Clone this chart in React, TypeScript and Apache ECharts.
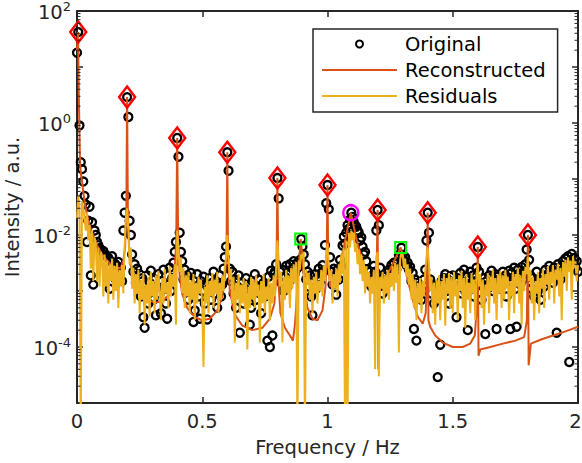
import React, { useEffect, useRef } from "react";
import * as echarts from "echarts";

// ---------- DATA ----------
const FREQ_STEP = 0.005; // Hz, spectral sampling of the measured spectrum

// Original spectrum, 0 .. 2 Hz (step 0.005)
const originalA = [
  18, 42, 0.9, 0.2, 0.15, 0.09, 0.05, 0.035, 0.0075, 0.018, 0.032, 0.0019, 0.017, 0.0013, 0.012, 0.01, 0.0075, 0.0066, 0.0058, 0.0052,
  4.6e-3, 5.2e-3, 3.5e-3, 4.4e-3, 2.6e-3, 3.9e-3, 1.1e-3, 3.4e-3, 4.2e-3, 2.2e-3, 3.1e-3, 1.6e-3, 2.8e-3, 3.3e-3, 2.0e-3, 2.6e-3, 1.5e-3, 0.012, 0.025, 0.05,
  2.9, 1.28, 0.018, 0.01, 4.5e-3, 2.2e-3, 3.0e-3, 1.4e-3, 2.5e-3, 1.2e-3, 2.0e-3, 8e-4, 1.7e-3, 3.4e-4, 2.2e-4, 1.0e-3, 1.9e-3, 6e-4, 1.4e-3, 2.3e-3,
  1.1e-3, 7e-4, 1.6e-3, 3.7e-4, 1.2e-3, 2.0e-3, 9e-4, 4.0e-4, 1.5e-3, 2.4e-3, 1.1e-3, 6e-4, 3.2e-4, 1.3e-3, 2.6e-3, 1.0e-3, 1.7e-3, 3.2e-3, 5e-3, 7.5e-3,
  0.54, 0.25, 0.011, 5e-3, 3.4e-3, 1.6e-3, 2.4e-3, 1.0e-3, 1.9e-3, 7e-4, 1.4e-3, 2.1e-3, 9e-4, 2.8e-4, 4.5e-4, 1.2e-3, 2.0e-3, 8e-4, 3.2e-4, 1.5e-3,
];
const originalB = [
  1.0e-3, 1.8e-3, 6e-4, 1.3e-3, 3.1e-4, 1.1e-3, 1.7e-3, 7e-4, 1.4e-3, 2.2e-3, 9e-4, 1.5e-3, 5e-4, 1.2e-3, 1.9e-3, 8e-4, 1.3e-3, 2.5e-3, 4e-3, 6.2e-3,
  0.3, 0.14, 2.5e-3, 1.5e-3, 2.2e-3, 9e-4, 1.6e-3, 5e-4, 1.2e-3, 1.9e-3, 1.8e-4, 1.0e-3, 1.4e-3, 6e-4, 1.1e-3, 1.7e-3, 8e-4, 1.3e-3, 2.5e-4, 5e-4,
  1.5e-3, 1.0e-3, 2.0e-3, 7e-4, 1.2e-3, 1.6e-3, 9e-4, 4e-4, 1.3e-3, 1.4e-3, 8e-4, 1.1e-3, 1.3e-4, 1.8e-3, 1.0e-4, 2.3e-3, 1.6e-4, 2.0e-3, 2.2e-3, 3e-3,
  0.104, 0.045, 2.2e-3, 1.4e-3, 2.4e-3, 1.0e-3, 1.8e-3, 2.8e-3, 1.2e-3, 2.0e-3, 3.0e-3, 1.6e-3, 2.5e-3, 3.4e-3, 2.1e-3, 2.4e-3, 3.2e-3, 2.7e-3, 3.6e-3, 8.5e-3,
  6.2e-3, 4.5e-3, 3.0e-3, 1.6e-3, 2.2e-3, 1.2e-3, 1.9e-3, 8e-4, 3.7e-4, 1.4e-3, 2.0e-3, 1.1e-3, 1.7e-3, 2.5e-3, 1.5e-3, 2.1e-3, 2.9e-3, 2.3e-3, 6.6e-3, 0.037,
];
const originalC = [
  0.078, 0.029, 4.0e-3, 2.2e-3, 1.3e-3, 2.5e-3, 1.8e-3, 8.6e-4, 2.4e-3, 1.6e-3, 3.6e-3, 2.8e-3, 6.5e-3, 9.3e-3, 7e-3, 0.011, 0.015, 0.013, 0.019, 0.025,
  0.021, 0.017, 0.015, 0.014, 0.012, 0.011, 8e-3, 9e-3, 6.2e-3, 4.5e-3, 5.0e-3, 3.4e-3, 2.4e-3, 1.6e-3, 2.2e-3, 1.2e-3, 1.9e-3, 2.8e-3, 2.2e-3, 0.012,
  0.028, 0.015, 2.6e-3, 1.5e-3, 9e-4, 1.8e-3, 1.2e-3, 2.1e-3, 1.4e-3, 2.4e-3, 1.8e-3, 2.9e-3, 2.2e-3, 3.2e-3, 2.6e-3, 2.4e-3, 3.2e-3, 4.4e-3, 4.0e-3, 5.9e-3,
  4.4e-3, 3.6e-3, 4.0e-3, 2.9e-3, 3.2e-3, 2.4e-3, 2.7e-3, 1.5e-3, 2.1e-3, 2.1e-4, 1.6e-3, 1.3e-4, 1.4e-3, 8e-4, 1.2e-3, 7e-4, 1.0e-3, 1.6e-3, 2.4e-3, 8e-3,
  0.025, 0.011, 1.6e-3, 9e-4, 1.3e-3, 6e-4, 1.1e-3, 7e-4, 2.9e-5, 1.2e-3, 1.1e-4, 1.5e-3, 9e-4, 1.7e-3, 2.0e-3, 1.0e-3, 1.6e-3, 6e-4, 1.8e-3, 1.3e-3,
];
const originalD = [
  1.9e-3, 1.1e-3, 1.5e-3, 3.4e-4, 1.7e-3, 1.2e-3, 2.1e-3, 9e-4, 1.4e-3, 2.4e-3, 1.0e-3, 1.8e-3, 2.0e-4, 1.6e-3, 2.2e-3, 1.3e-3, 1.9e-3, 8e-4, 1.5e-3, 2.6e-3,
  6.1e-3, 2.2e-3, 1.4e-3, 7e-4, 1.2e-3, 1.7e-3, 1.7e-4, 1.5e-3, 1.1e-3, 1.9e-3, 1.3e-3, 2.3e-3, 1.0e-3, 1.6e-3, 2.0e-3, 2.1e-4, 1.8e-3, 1.4e-3, 1.1e-3, 1.7e-3,
  2.2e-3, 1.4e-3, 1.9e-3, 8e-4, 1.5e-3, 2.3e-3, 2.1e-4, 2.1e-3, 1.7e-3, 2.6e-3, 1.1e-3, 2.3e-4, 2.4e-3, 2.0e-3, 1.3e-3, 2.7e-3, 1.6e-3, 2.2e-3, 3.0e-3, 5.5e-3,
  0.01, 3.6e-3, 1.9e-3, 1.1e-3, 1.7e-3, 8e-4, 1.4e-3, 2.2e-3, 1.0e-3, 1.6e-3, 7e-4, 1.3e-3, 1.9e-3, 1.2e-3, 2.4e-3, 1.5e-3, 2.0e-3, 2.8e-3, 1.7e-3, 2.3e-3,
  1.4e-3, 2.6e-3, 2.0e-3, 1.8e-4, 3.0e-3, 2.2e-3, 1.6e-3, 2.8e-3, 3.4e-3, 2.5e-3, 3.8e-3, 2.9e-3, 4.2e-3, 5.4e-5, 3.5e-3, 4.6e-3, 3.2e-3, 3.9e-3, 2.6e-3, 3.4e-3,
  2.2e-3,
];

// Residuals, same frequency grid
const residualA = [
  0.02, 0.05, 0.03, 3e-6, 0.04, 0.03, 0.02, 0.012, 0.025, 0.008, 0.015, 2.5e-3, 0.012, 1.5e-3, 9e-3, 7e-3, 1.5e-3, 6e-3, 1.2e-3, 5e-3,
  4e-3, 8e-4, 4.5e-3, 1.2e-3, 3.5e-3, 6e-4, 3e-3, 1.5e-3, 3.8e-3, 7e-4, 2.8e-3, 1.0e-3, 3.2e-3, 5e-4, 2.4e-3, 1.2e-3, 2.9e-3, 9e-4, 6e-3, 0.02,
  0.03, 0.012, 3e-3, 6e-3, 1.1e-3, 2.6e-3, 6e-4, 2.0e-3, 9e-4, 2.4e-3, 4e-4, 1.6e-3, 7e-4, 2.1e-3, 2.5e-4, 1.3e-3, 6e-4, 1.8e-3, 3.5e-4, 2.2e-3,
  8e-4, 1.5e-3, 4e-4, 1.9e-3, 7e-4, 2.3e-3, 1.0e-3, 3e-4, 1.7e-3, 6e-4, 2.5e-3, 9e-4, 1.4e-3, 5e-4, 2.8e-3, 8e-4, 2.0e-3, 1.2e-3, 3e-3, 2.5e-4,
  0.012, 6e-3, 2.2e-3, 4e-3, 9e-4, 2.6e-3, 5e-4, 1.9e-3, 8e-4, 2.2e-3, 4e-4, 1.5e-3, 7e-4, 2.0e-3, 3e-4, 1.4e-3, 6e-4, 1.8e-3, 9e-4, 1.6e-3,
];
const residualB = [
  5e-4, 4.4e-5, 1.2e-3, 6e-4, 1.9e-3, 4e-4, 1.5e-3, 8e-4, 2.1e-3, 5e-4, 1.6e-3, 9e-4, 2.2e-3, 4e-4, 1.4e-3, 7e-4, 1.9e-3, 1.0e-3, 2.6e-3, 4e-3,
  0.01, 4e-3, 1.6e-3, 2.5e-3, 6e-4, 1.8e-3, 1.2e-4, 1.4e-3, 7e-4, 2.0e-3, 4e-4, 1.3e-3, 6e-4, 1.7e-3, 5e-4, 1.5e-3, 9e-5, 1.2e-3, 5e-4, 1.8e-3,
  7e-4, 1.6e-3, 5e-4, 1.9e-3, 8e-4, 1.3e-3, 1.2e-4, 1.5e-3, 6e-4, 2.0e-3, 4e-4, 1.2e-3, 7e-4, 1.7e-3, 3e-4, 1.4e-3, 6e-4, 1.9e-3, 8e-4, 2.5e-3,
  8e-3, 3e-3, 1.2e-3, 2.2e-3, 1.2e-4, 1.8e-3, 7e-4, 2.4e-3, 9e-4, 1.9e-3, 5e-4, 2.6e-3, 1.1e-3, 3.0e-3, 1.4e-3, 3.3e-3, 3e-6, 3.5e-3, 2.4e-3, 4.5e-3,
  3.8e-3, 5e-3, 3e-6, 2.4e-3, 1.3e-3, 2.1e-3, 7e-4, 1.6e-3, 4e-4, 1.8e-3, 9e-4, 2.2e-3, 6e-4, 1.5e-3, 1.0e-3, 2.4e-3, 8e-4, 2.8e-3, 1.5e-3, 5e-3,
];
const residualC = [
  7e-3, 2.5e-3, 1.5e-3, 2.4e-3, 6e-4, 2.0e-3, 1.1e-3, 2.5e-3, 8e-4, 3.0e-3, 1.4e-3, 4.5e-3, 2.0e-3, 6e-3, 3e-6, 8e-3, 3e-6, 0.011, 6e-3, 0.012,
  8e-3, 0.011, 5e-3, 7e-3, 3e-3, 5.5e-3, 2e-3, 4.5e-3, 1.5e-3, 3.5e-3, 9e-4, 2.8e-3, 1.2e-3, 2.2e-3, 6e-4, 1.8e-3, 9e-4, 2.4e-3, 4e-5, 4e-3,
  5e-3, 3e-5, 1.8e-3, 1.1e-3, 2.2e-3, 6e-4, 1.9e-3, 9e-4, 2.4e-3, 7e-4, 2.1e-3, 1.2e-3, 2.8e-3, 1.0e-3, 3.2e-3, 1.4e-3, 3.0e-3, 8e-5, 3.6e-3, 5e-3,
  4.4e-3, 2.6e-3, 3.8e-3, 1.8e-3, 3.0e-3, 1.3e-3, 2.5e-3, 7e-4, 2.0e-3, 5e-4, 1.6e-3, 3e-4, 1.4e-3, 6e-4, 1.7e-3, 4e-4, 1.5e-3, 8e-4, 2.2e-3, 4e-3,
  6e-3, 3e-3, 1.0e-3, 1.8e-3, 4e-4, 1.4e-3, 2.5e-4, 1.6e-3, 6e-4, 1.9e-3, 3e-4, 1.5e-3, 7e-4, 2.0e-3, 2.4e-4, 1.7e-3, 9e-4, 2.1e-3, 5e-4, 1.8e-3,
];
const residualD = [
  4e-4, 2.2e-3, 8e-4, 1.6e-3, 3e-4, 1.9e-3, 1.0e-3, 2.3e-3, 5e-4, 1.7e-3, 2.2e-4, 2.0e-3, 7e-4, 1.4e-3, 4e-4, 2.1e-3, 9e-4, 1.6e-3, 3e-4, 2.0e-3,
  3e-3, 1.2e-3, 2.0e-3, 5e-4, 1.6e-3, 2.5e-4, 1.3e-3, 8e-4, 2.1e-3, 4e-4, 1.8e-3, 1.0e-3, 2.4e-3, 6e-4, 1.7e-3, 3e-4, 2.0e-3, 9e-4, 2.3e-3, 5e-4,
  1.9e-3, 7e-4, 2.4e-3, 1.1e-3, 1.8e-3, 3e-4, 1.5e-3, 8e-4, 2.2e-3, 4e-4, 2.0e-3, 1.2e-3, 2.6e-3, 6e-4, 1.9e-3, 2.5e-4, 2.3e-3, 1.0e-3, 2.7e-3, 2.0e-3,
  4e-3, 1.5e-3, 2.4e-3, 6e-4, 1.8e-3, 3e-4, 1.5e-3, 9e-4, 2.2e-3, 4e-4, 1.7e-3, 1.1e-3, 2.5e-3, 5e-4, 2.0e-3, 1.3e-3, 2.8e-3, 7e-4, 2.2e-3, 1.4e-3,
  2.9e-3, 6e-4, 2.4e-3, 1.6e-3, 3.1e-3, 8e-4, 2.6e-3, 3e-4, 3.3e-3, 1.8e-3, 3.6e-3, 1.0e-3, 4.0e-3, 2.2e-3, 3.5e-3, 7e-4, 4.2e-3, 2.6e-3, 3.4e-3, 1.5e-3,
  2.9e-3,
];

// Reconstructed model curve (frequency / value pairs)
const reconFreq = [
  0, 0.004, 0.008, 0.012, 0.016, 0.02, 0.03, 0.04, 0.05, 0.06, 0.08, 0.1, 0.12, 0.14, 0.16, 0.175, 0.185, 0.192, 0.197, 0.2,
  0.203, 0.208, 0.215, 0.23, 0.25, 0.28, 0.31, 0.34, 0.365, 0.38, 0.39, 0.396, 0.4, 0.404, 0.41, 0.42, 0.44, 0.47, 0.5, 0.53,
  0.56, 0.58, 0.592, 0.597, 0.6, 0.603, 0.61, 0.63, 0.66, 0.7, 0.74, 0.77, 0.788, 0.796, 0.8, 0.804, 0.812, 0.83, 0.85, 0.862,
  0.87, 0.88, 0.887, 0.893, 0.9, 0.908, 0.92, 0.94, 0.96, 0.98, 0.992, 0.997, 1.0, 1.003, 1.01, 1.03, 1.05, 1.065, 1.08, 1.093,
  1.105, 1.12, 1.14, 1.16, 1.18, 1.192, 1.197, 1.2, 1.203, 1.208, 1.22, 1.24, 1.26, 1.28, 1.292, 1.305, 1.32, 1.34, 1.36, 1.38,
  1.392, 1.397, 1.4, 1.403, 1.41, 1.43, 1.46, 1.5, 1.54, 1.57, 1.588, 1.596, 1.6, 1.603, 1.61, 1.65, 1.7, 1.75, 1.785, 1.796,
  1.8, 1.803, 1.812, 1.85, 1.9, 1.95, 2.0,
];
const reconVal = [
  20, 42, 2, 0.2, 0.12, 0.09, 0.04, 0.022, 0.015, 0.011, 6.5e-3, 4.5e-3, 3.5e-3, 2.8e-3, 2.5e-3, 2.6e-3, 3.5e-3, 6e-3, 0.03, 2.9,
  0.03, 6e-3, 3e-3, 1.6e-3, 1.0e-3, 7e-4, 6.2e-4, 6.5e-4, 8.5e-4, 1.3e-3, 2.5e-3, 7e-3, 0.54, 6e-3, 1.8e-3, 9e-4, 5e-4, 3.4e-4, 3.0e-4, 3.2e-4,
  4.5e-4, 8e-4, 2e-3, 6e-3, 0.3, 4e-3, 1.0e-3, 3.8e-4, 2.4e-4, 2.0e-4, 2.2e-4, 3.2e-4, 6e-4, 2e-3, 0.104, 1.5e-3, 4e-4, 2.2e-4, 1.6e-4, 1.3e-4,
  2.5e-4, 1.2e-3, 3.5e-3, 8.5e-3, 4e-3, 1.2e-3, 5e-4, 3.2e-4, 3.0e-4, 4.5e-4, 1.2e-3, 5e-3, 0.078, 3e-3, 1.2e-3, 1.4e-3, 3e-3, 6e-3, 0.013, 0.025,
  0.014, 7e-3, 3.5e-3, 1.8e-3, 1.2e-3, 1.5e-3, 4e-3, 0.028, 4e-5, 1.2e-3, 1.4e-3, 2.0e-3, 3.0e-3, 4.6e-3, 6e-3, 3.6e-3, 1.6e-3, 7e-4, 3.5e-4, 2.6e-4,
  4e-4, 1.5e-3, 0.025, 3e-4, 2.3e-4, 1.6e-4, 1.2e-4, 1.0e-4, 1.0e-4, 1.15e-4, 1.6e-4, 5e-4, 6.1e-3, 7e-5, 9e-5, 1.0e-4, 1.15e-4, 1.3e-4, 1.5e-4, 3e-4,
  0.01, 4.7e-5, 1.15e-4, 1.35e-4, 1.6e-4, 1.9e-4, 2.3e-4,
];

// Detected components
const peakFreq = [0.005, 0.2, 0.4, 0.6, 0.8, 1.0, 1.2, 1.4, 1.6, 1.8];
const peakVal = [42, 2.9, 0.54, 0.3, 0.104, 0.078, 0.028, 0.025, 0.0061, 0.01];
const broadFreq = [0.893, 1.292];
const broadVal = [0.0085, 0.006];
const selectedFreq = [1.093];
const selectedVal = [0.025];

// Axis ticks
const xTickInterval = 0.5;
const minorMultipliers = [2, 3, 4, 5, 6, 7, 8, 9];
const minorDecades = [1e-5, 1e-4, 1e-3, 1e-2, 1e-1, 1, 10];

// ---------- CHART ----------
const FONT = "DejaVu Sans";
const AXIS = "#262626";
const ORANGE = "#D95319";
const YELLOW = "#EDB120";

export default function App() {
  const ref = useRef<HTMLDivElement>(null);

  useEffect(() => {
    if (!ref.current) return;
    const chart = echarts.init(ref.current, undefined, { renderer: "svg" });

    const originalValues = [...originalA, ...originalB, ...originalC, ...originalD];
    const residualValues = [...residualA, ...residualB, ...residualC, ...residualD];
    const freqOf = (i: number) => +(i * FREQ_STEP).toFixed(3);
    const originalData = originalValues.map((v, i) => [freqOf(i), v]);
    const residualData = residualValues.map((v, i) => [freqOf(i), v]);
    const reconData = reconFreq.map((f, i) => [f, reconVal[i]]);
    const minorTicks = minorDecades.flatMap((d) => minorMultipliers.map((m) => [0, m * d]));

    const lineIcon = "path://M0,0H75V2H0Z";

    const option: any = {
      animation: false,
      backgroundColor: "#ffffff",
      grid: { left: 77, top: 11, width: 501, height: 392, containLabel: false, outerBoundsMode: "none" },
      legend: {
        orient: "vertical",
        left: 313,
        top: 29,
        itemWidth: 75,
        itemHeight: 7,
        itemGap: 6,
        padding: [5, 12, 6, 9],
        borderColor: AXIS,
        borderWidth: 1.5,
        borderRadius: 0,
        backgroundColor: "#ffffff",
        symbolKeepAspect: true,
        textStyle: { fontSize: 19.5, fontFamily: FONT, color: "#000", padding: [0, 0, 0, 3] },
        data: [
          { name: "Original", icon: "circle", itemStyle: { color: "rgba(0,0,0,0)", borderColor: "#000", borderWidth: 2, opacity: 1 } },
          { name: "Reconstructed", icon: lineIcon, itemStyle: { color: ORANGE, borderWidth: 0, opacity: 1 } },
          { name: "Residuals", icon: lineIcon, itemStyle: { color: YELLOW, borderWidth: 0, opacity: 1 } },
        ],
      },
      xAxis: [
        {
          type: "value",
          min: 0,
          max: 2,
          interval: xTickInterval,
          position: "bottom",
          axisLine: { show: true, onZero: false, lineStyle: { color: AXIS, width: 2 } },
          axisTick: { show: true, inside: true, length: 6, lineStyle: { color: AXIS, width: 1.5 } },
          axisLabel: {
            show: true,
            color: AXIS,
            fontSize: 19.5,
            fontFamily: FONT,
            margin: 8,
            formatter: (v: number) => (v === 2 ? "{r|2}" : String(v)),
            rich: { r: { fontSize: 19.5, fontFamily: FONT, color: AXIS, padding: [0, 5, 0, 0] } },
          },
          splitLine: { show: false },
          name: "Frequency / Hz",
          nameLocation: "middle",
          nameGap: 34,
          nameTextStyle: { color: AXIS, fontSize: 19.5, fontFamily: FONT },
        },
        {
          type: "value",
          min: 0,
          max: 2,
          interval: xTickInterval,
          position: "top",
          axisLine: { show: true, onZero: false, lineStyle: { color: AXIS, width: 2 } },
          axisTick: { show: true, inside: true, length: 6, lineStyle: { color: AXIS, width: 1.5 } },
          axisLabel: { show: false },
          splitLine: { show: false },
        },
      ],
      yAxis: [
        {
          type: "log",
          logBase: 10,
          min: 1e-5,
          max: 100,
          splitNumber: 7,
          position: "left",
          axisLine: { show: true, onZero: false, lineStyle: { color: AXIS, width: 2 } },
          axisTick: { show: true, inside: true, length: 6, lineStyle: { color: AXIS, width: 1.5 } },
          splitLine: { show: false },
          axisLabel: {
            show: true,
            margin: 6,
            formatter: (v: number) => {
              const e = Math.round(Math.log10(v));
              if (e % 2 !== 0) return "";
              return `{b|10}{s|${e}}`;
            },
            rich: {
              b: { fontSize: 19.5, fontFamily: FONT, color: AXIS, lineHeight: 23, verticalAlign: "bottom" },
              s: { fontSize: 13, fontFamily: FONT, color: AXIS, lineHeight: 13, verticalAlign: "top" },
            },
          },
          name: "Intensity / a.u.",
          nameLocation: "middle",
          nameGap: 52,
          nameTextStyle: { color: AXIS, fontSize: 19.5, fontFamily: FONT },
        },
        {
          type: "log",
          logBase: 10,
          min: 1e-5,
          max: 100,
          splitNumber: 7,
          position: "right",
          axisLine: { show: true, onZero: false, lineStyle: { color: AXIS, width: 2 } },
          axisTick: { show: true, inside: true, length: 6, lineStyle: { color: AXIS, width: 1.5 } },
          splitLine: { show: false },
          axisLabel: { show: false },
        },
      ],
      series: [
        {
          name: "Original",
          type: "scatter",
          data: originalData,
          symbol: "circle",
          symbolSize: 8,
          itemStyle: { color: "rgba(0,0,0,0)", borderColor: "#000", borderWidth: 2.3, opacity: 1 },
          z: 2,
          silent: true,
        },
        {
          name: "Reconstructed",
          type: "line",
          data: reconData,
          symbol: "none",
          showSymbol: false,
          color: ORANGE,
          lineStyle: { color: ORANGE, width: 2, opacity: 1 },
          z: 3,
          silent: true,
        },
        {
          name: "Residuals",
          type: "line",
          data: residualData,
          symbol: "none",
          showSymbol: false,
          color: YELLOW,
          lineStyle: { color: YELLOW, width: 2, opacity: 1 },
          z: 4,
          silent: true,
        },
        {
          name: "Peaks",
          type: "scatter",
          data: peakFreq.map((f, i) => [f, peakVal[i]]),
          symbol: "diamond",
          symbolSize: [16, 21],
          itemStyle: { color: "rgba(0,0,0,0)", borderColor: "#FF0000", borderWidth: 2.5, opacity: 1 },
          z: 5,
          silent: true,
        },
        {
          name: "Broad",
          type: "scatter",
          data: broadFreq.map((f, i) => [f, broadVal[i]]),
          symbol: "rect",
          symbolSize: 11,
          itemStyle: { color: "rgba(0,0,0,0)", borderColor: "#00FF00", borderWidth: 2, opacity: 1 },
          z: 5,
          silent: true,
        },
        {
          name: "Selected",
          type: "scatter",
          data: selectedFreq.map((f, i) => [f, selectedVal[i]]),
          symbol: "circle",
          symbolSize: 15,
          itemStyle: { color: "rgba(0,0,0,0)", borderColor: "#FF00FF", borderWidth: 2.5, opacity: 1 },
          z: 5,
          silent: true,
        },
        {
          name: "MinorTicks",
          type: "custom",
          data: minorTicks,
          silent: true,
          clip: false,
          z: 6,
          renderItem: (_params: any, api: any) => {
            const v = api.value(1);
            const l = api.coord([0, v]);
            const r = api.coord([2, v]);
            return {
              type: "group",
              children: [
                { type: "line", shape: { x1: l[0], y1: l[1], x2: l[0] + 3.5, y2: l[1] }, style: { stroke: AXIS, lineWidth: 1 } },
                { type: "line", shape: { x1: r[0], y1: r[1], x2: r[0] - 3.5, y2: r[1] }, style: { stroke: AXIS, lineWidth: 1 } },
              ],
            };
          },
        },
      ],
    };

    chart.setOption(option);
    return () => chart.dispose();
  }, []);

  return (
    <div
      ref={ref}
      style={{ position: "fixed", left: 0, top: 0, width: 582, height: 463, background: "#fff" }}
    />
  );
}
